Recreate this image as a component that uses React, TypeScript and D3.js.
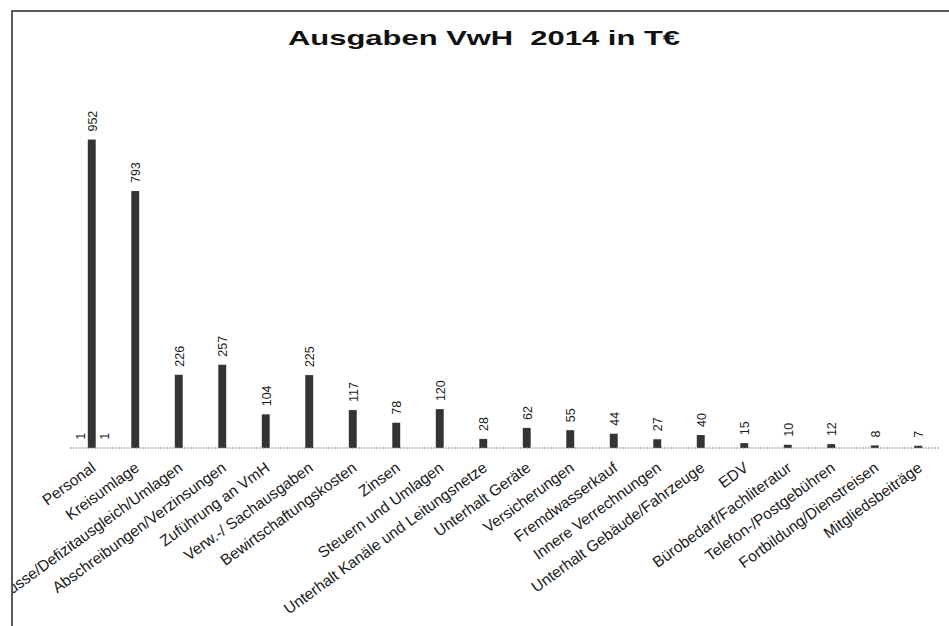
import React, { useEffect, useRef } from 'react'
import * as d3 from 'd3'

const categories = [
  'Personal',
  'Kreisumlage',
  'Zuschüsse/Defizitausgleich/Umlagen',
  'Abschreibungen/Verzinsungen',
  'Zuführung an VmH',
  'Verw.-/ Sachausgaben',
  'Bewirtschaftungskosten',
  'Zinsen',
  'Steuern und Umlagen',
  'Unterhalt Kanäle und Leitungsnetze',
  'Unterhalt Geräte',
  'Versicherungen',
  'Fremdwasserkauf',
  'Innere Verrechnungen',
  'Unterhalt Gebäude/Fahrzeuge',
  'EDV',
  'Bürobedarf/Fachliteratur',
  'Telefon-/Postgebühren',
  'Fortbildung/Dienstreisen',
  'Mitgliedsbeiträge',
]

const values = [952, 793, 226, 257, 104, 225, 117, 78, 120, 28, 62, 55, 44, 27, 40, 15, 10, 12, 8, 7]

// two tiny side series that only show up next to "Personal"
const sideSeries = ['links', 'mitte', 'rechts']
const sideLeft = [1]
const sideRight = [1]

const W = 949
const H = 626

const App = () => {
  const ref = useRef<SVGSVGElement | null>(null)

  useEffect(() => {
    const svg = d3.select(ref.current)
    svg.selectAll('*').remove()

    const axisY = 448
    const x = d3.scaleBand<string>().domain(categories).range([70, 940])
    const y = d3.scaleLinear().domain([0, 1000]).range([axisY, 124])
    const sub = d3.scaleBand<string>().domain(sideSeries).range([-15.75, 15.75]).paddingInner(0.33)

    svg.append('defs').append('clipPath').attr('id', 'frame')
      .append('rect').attr('x', 13).attr('y', 12).attr('width', W).attr('height', H)

    // frame of the scanned page
    svg.append('path')
      .attr('d', `M12,${H} V11 H${W}`)
      .attr('fill', 'none')
      .attr('stroke', '#5a5a5a')
      .attr('stroke-width', 2)

    // title (the scan is stretched sideways, so the text is too)
    svg.append('text')
      .attr('x', 288)
      .attr('y', 45)
      .attr('textLength', 392)
      .attr('lengthAdjust', 'spacingAndGlyphs')
      .style('font-family', 'Liberation Sans, Arial, sans-serif')
      .style('font-weight', 'bold')
      .style('font-size', '21px')
      .attr('fill', '#111')
      .text('Ausgaben VwH\u00a0\u00a02014 in T€')

    const g = svg.append('g').attr('clip-path', 'url(#frame)')

    // bars
    g.selectAll('.bar')
      .data(values)
      .enter()
      .append('rect')
      .attr('x', (d, i) => x(categories[i])! + x.bandwidth() / 2 + sub('mitte')!)
      .attr('y', d => y(d))
      .attr('width', sub.bandwidth())
      .attr('height', d => axisY - y(d))
      .attr('fill', '#343434')

    // value labels
    g.selectAll('.val')
      .data(values)
      .enter()
      .append('text')
      .attr('transform', (d, i) => {
        const cx = x(categories[i])! + x.bandwidth() / 2 + sub('mitte')! + sub.bandwidth() / 2
        return `translate(${cx + 5},${y(d) - 8}) rotate(-90)`
      })
      .style('font-family', 'Liberation Sans, Arial, sans-serif')
      .style('font-size', '12.5px')
      .attr('fill', '#1a1a1a')
      .text(d => d)

    // side series labels (value 1)
    const sides = [
      ...sideLeft.map(v => ({ s: 'links', v })),
      ...sideRight.map(v => ({ s: 'rechts', v })),
    ]
    g.selectAll('.side')
      .data(sides)
      .enter()
      .append('text')
      .attr('transform', d => {
        const cx = x(categories[0])! + x.bandwidth() / 2 + sub(d.s)! + sub.bandwidth() / 2
        return `translate(${cx + 5},${y(d.v) - 8}) rotate(-90)`
      })
      .style('font-family', 'Liberation Sans, Arial, sans-serif')
      .style('font-size', '12.5px')
      .attr('fill', '#1a1a1a')
      .text(d => d.v)

    // baseline
    g.append('line')
      .attr('x1', 70)
      .attr('x2', 940)
      .attr('y1', axisY)
      .attr('y2', axisY)
      .attr('stroke', '#8a8a8a')
      .attr('stroke-width', 1)
      .attr('stroke-dasharray', '2,1')

    // category labels
    g.selectAll('.cat')
      .data(categories)
      .enter()
      .append('text')
      .attr('transform', d => `translate(${x(d)! + x.bandwidth() / 2 + 5},${axisY + 22}) rotate(-36)`)
      .attr('text-anchor', 'end')
      .style('font-family', 'Liberation Sans, Arial, sans-serif')
      .style('font-size', '15.5px')
      .attr('fill', '#1a1a1a')
      .text(d => d)
  }, [])

  return (
    <svg
      ref={ref}
      width={W}
      height={H}
      style={{ position: 'absolute', left: 0, top: 0, background: '#fff' }}
    />
  )
}

export default App
